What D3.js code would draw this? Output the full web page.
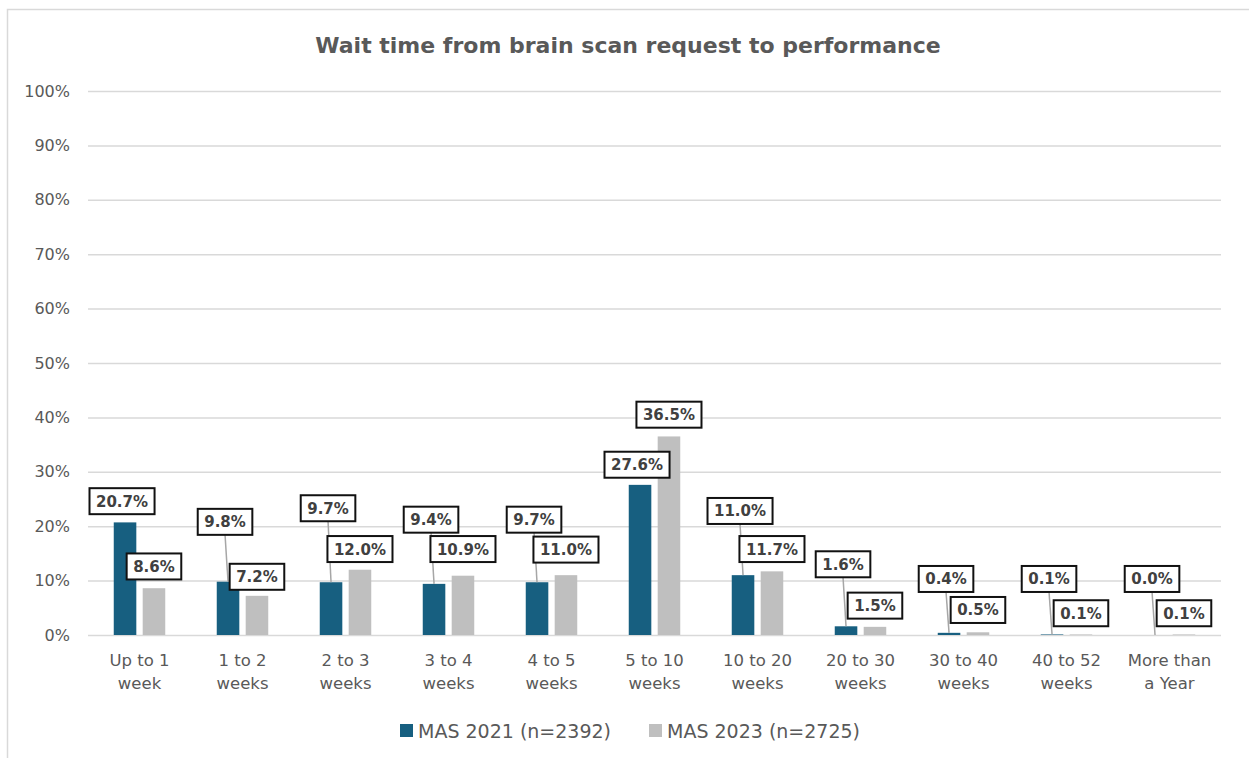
<style>body{margin:0;}</style>
<script src="https://cdn.jsdelivr.net/npm/d3@7"></script>
<svg id="svgelement" width="1249" height="758" style="display:block"></svg>
<script>
	var width = 1249;
	var height = 758;

	var categories = [["Up to 1","week"],["1 to 2","weeks"],["2 to 3","weeks"],["3 to 4","weeks"],["4 to 5","weeks"],
		["5 to 10","weeks"],["10 to 20","weeks"],["20 to 30","weeks"],["30 to 40","weeks"],["40 to 52","weeks"],["More than","a Year"]];
	var seriesNames = ["MAS 2021 (n=2392)","MAS 2023 (n=2725)"];
	var mas2021 = [20.7,9.8,9.7,9.4,9.7,27.6,11.0,1.6,0.4,0.1,0.0];
	var mas2023 = [8.6,7.2,12.0,10.9,11.0,36.5,11.7,1.5,0.5,0.1,0.1];
	var yTicks = [0,10,20,30,40,50,60,70,80,90,100];
	// where the (hand-moved) data labels sit, in % units of the y axis
	var labelAt2021 = [24.6,20.8,23.3,21.2,21.2,31.3,22.8,13.0,10.3,10.3,10.3];
	var labelAt2023 = [12.6,10.7,15.8,15.8,15.7,40.5,15.8,5.4,4.6,4.0,4.0];

	var colors = ["#175f80","#bfbfbf"];
	var font = "DejaVu Sans, sans-serif";
	var svg = d3.select("#svgelement").style("font-family",font);

	svg.append("rect").attr("x",7.5).attr("y",9.5).attr("width",1260).attr("height",800)
		.attr("fill","#fff").attr("stroke","#d9d9d9").attr("stroke-width",1.5);

	svg.append("text").attr("x",628).attr("y",53).attr("text-anchor","middle")
		.attr("font-size",22).attr("font-weight","bold").attr("fill","#595959")
		.text("Wait time from brain scan request to performance");

	var y = d3.scaleLinear().domain([0,100]).range([635,91]);
	var x0 = d3.scaleBand().domain(d3.range(categories.length)).range([88,1221]).paddingInner(0.5).paddingOuter(0.25);
	var x1 = d3.scaleBand().domain([0,1]).range([0,x0.bandwidth()]).paddingInner(0.22);

	// grid
	var yAxis = d3.axisLeft(y).tickValues(yTicks).tickSize(-(1221-88)).tickFormat(function(d){return d+"%";});
	var gy = svg.append("g").attr("transform","translate(88,0)").call(yAxis);
	gy.select(".domain").remove();
	gy.selectAll(".tick line").attr("stroke","#d9d9d9").attr("stroke-width",1.5);
	gy.selectAll(".tick text").attr("x",-18).attr("font-size",16).attr("fill","#595959").attr("font-family",font);

	// x labels
	var xAxis = d3.axisBottom(x0).tickSize(0).tickFormat("");
	var gx = svg.append("g").attr("transform","translate(0,635)").call(xAxis);
	gx.select(".domain").remove();
	gx.selectAll(".tick").each(function(d){
		var t = d3.select(this).append("text").attr("text-anchor","middle").attr("fill","#595959")
			.attr("font-size",16.5).attr("font-family",font);
		t.append("tspan").attr("x",0).attr("y",31).text(categories[d][0]);
		t.append("tspan").attr("x",0).attr("y",54).text(categories[d][1]);
	});

	var series = [mas2021, mas2023];
	var labelAt = [labelAt2021, labelAt2023];
	var bars = svg.append("g");
	var labels = svg.append("g");

	series.forEach(function(vals, s){
		bars.selectAll(".bar"+s).data(vals).enter().append("rect")
			.attr("x",function(d,i){return x0(i)+x1(s);})
			.attr("y",function(d){return y(d);})
			.attr("width",x1.bandwidth())
			.attr("height",function(d){return y(0)-y(d);})
			.attr("fill",colors[s]);

		vals.forEach(function(v,i){
			var cx = x0(i)+x1(s)+x1.bandwidth()/2;
			var lx = cx + (s===0 ? -3 : 0);
			var cy = y(labelAt[s][i]);
			var txt = v.toFixed(1)+"%";
			var g = labels.append("g");
			var t = g.append("text").attr("x",lx).attr("y",cy+5.5).attr("text-anchor","middle")
				.attr("font-size",15).attr("font-weight","bold").attr("fill","#404040").text(txt);
			var w = t.node().getComputedTextLength()+13;
			var h = 26;
			if (y(v) - (cy+h/2) > 14) {
				labels.insert("line",":first-child").attr("x1",lx).attr("y1",cy+h/2).attr("x2",cx).attr("y2",y(v))
					.attr("stroke","#a6a6a6").attr("stroke-width",1.5);
			}
			g.insert("rect","text").attr("x",lx-w/2).attr("y",cy-h/2).attr("width",w).attr("height",h)
				.attr("fill","#fff").attr("stroke","#111").attr("stroke-width",2);
		});
	});

	// legend
	var legX = [400,649];
	seriesNames.forEach(function(n,s){
		svg.append("rect").attr("x",legX[s]).attr("y",724).attr("width",13).attr("height",13).attr("fill",colors[s]);
		svg.append("text").attr("x",legX[s]+18).attr("y",738).attr("font-size",19).attr("fill","#595959").text(n);
	});
</script>
